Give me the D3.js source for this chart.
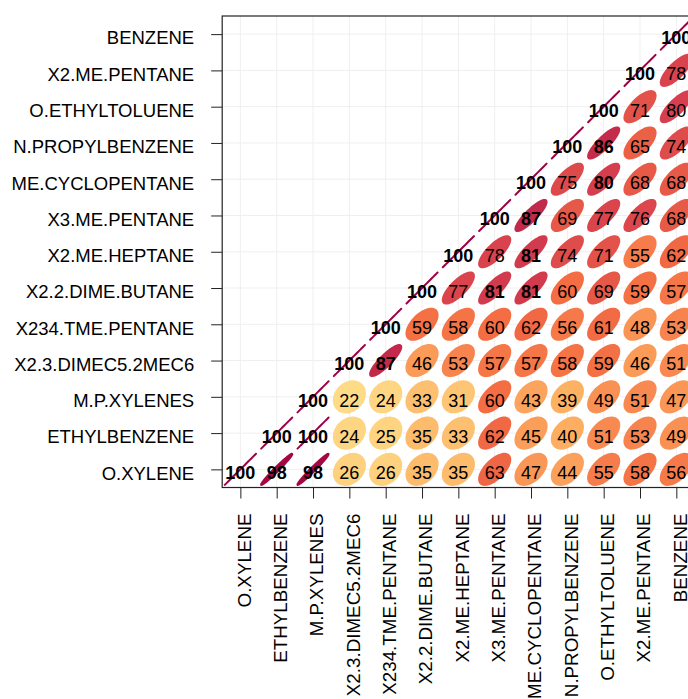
<!DOCTYPE html>
<html>
<head>
<meta charset="utf-8">
<script src="https://cdn.jsdelivr.net/npm/d3@7"></script>
<style>
body { margin: 0; background: #fff; }
svg { display: block; font-family: "Liberation Sans", Arial, sans-serif; }
</style>
</head>
<body>
<div id="div_svg"></div>
<script>
// variable order, bottom-to-top on y and left-to-right on x
var vars = ["O.XYLENE", "ETHYLBENZENE", "M.P.XYLENES", "X2.3.DIMEC5.2MEC6",
  "X234.TME.PENTANE", "X2.2.DIME.BUTANE", "X2.ME.HEPTANE", "X3.ME.PENTANE",
  "ME.CYCLOPENTANE", "N.PROPYLBENZENE", "O.ETHYLTOLUENE", "X2.ME.PENTANE", "BENZENE"];

// correlations (x100), row i holds columns i..12
var row0 = [100, 98, 98, 26, 26, 35, 35, 63, 47, 44, 55, 58, 56];
var row1 = [100, 100, 24, 25, 35, 33, 62, 45, 40, 51, 53, 49];
var row2 = [100, 22, 24, 33, 31, 60, 43, 39, 49, 51, 47];
var row3 = [100, 87, 46, 53, 57, 57, 58, 59, 46, 51];
var row4 = [100, 59, 58, 60, 62, 56, 61, 48, 53];
var row5 = [100, 77, 81, 81, 60, 69, 59, 57];
var row6 = [100, 78, 81, 74, 71, 55, 62];
var row7 = [100, 87, 69, 77, 76, 68];
var row8 = [100, 75, 80, 68, 68];
var row9 = [100, 86, 65, 74];
var row10 = [100, 71, 79.6];
var row11 = [100, 78];
var row12 = [100];
var rows = [row0, row1, row2, row3, row4, row5, row6, row7, row8, row9, row10, row11, row12];

// reversed brewer Spectral over -1..1
var spectral = ["#5E4FA2", "#3288BD", "#66C2A5", "#ABDDA4", "#E6F598", "#FFFFBF",
  "#FEE08B", "#FDAE61", "#F46D43", "#D53E4F", "#9E0142"];

var cells = [];
rows.forEach(function (r, i) {
  r.forEach(function (v, k) {
    cells.push({ row: vars[i], col: vars[i + k], z: v / 100 });
  });
});

var svg = d3.select("#div_svg").append("svg").attr("width", 688).attr("height", 699);

var x = d3.scalePoint().domain(vars).range([222.2, 694.5]).padding(0.5);
var y = d3.scalePoint().domain(vars).range([487.5, 16]).padding(0.5);
var col = d3.scaleLinear().domain(d3.range(11).map(function (i) { return -1 + i * 0.2; }))
  .range(spectral);

var step = x.step();
var ts = Math.sqrt(-2 * Math.log(1 - 0.9)) * 0.2; // sqrt(qchisq(.9,2)) * scale

// grid
svg.append("g").selectAll("line.gx").data(vars).enter().append("line")
  .attr("x1", function (d) { return x(d); }).attr("x2", function (d) { return x(d); })
  .attr("y1", 16).attr("y2", 487.5).style("stroke", "#efefef").style("stroke-width", 1);
svg.append("g").selectAll("line.gy").data(vars).enter().append("line")
  .attr("y1", function (d) { return y(d); }).attr("y2", function (d) { return y(d); })
  .attr("x1", 222.2).attr("x2", 694.5).style("stroke", "#efefef").style("stroke-width", 1);

// ellipses
function ellipse(c) {
  var d = Math.acos(Math.max(-1, Math.min(1, c.z)));
  var pts = [];
  for (var j = 0; j < 50; j++) {
    var a = j * 2 * Math.PI / 49;
    pts.push([x(c.col) + ts * step * Math.cos(a + d / 2),
              y(c.row) - ts * y.step() * Math.cos(a - d / 2)]);
  }
  return pts;
}

svg.append("g").selectAll("polygon").data(cells).enter().append("polygon")
  .attr("points", function (c) { return ellipse(c).map(function (p) { return p.join(","); }).join(" "); })
  .style("fill", function (c) { return col(c.z); })
  .style("stroke", function (c) { return col(c.z); })
  .style("stroke-width", 2)
  .style("stroke-linejoin", "round");

svg.append("g").selectAll("text").data(cells).enter().append("text")
  .attr("x", function (c) { return x(c.col); })
  .attr("y", function (c) { return y(c.row); })
  .attr("dy", "0.55em")
  .attr("text-anchor", "middle")
  .style("font-size", "18px")
  .style("font-weight", function (c) { return c.z < 0.8 ? "normal" : "bold"; })
  .style("fill", "#000")
  .text(function (c) { return Math.round(c.z * 100); });

// axes
var ax = svg.append("g").attr("transform", "translate(222.2,0)")
  .call(d3.axisLeft(y).tickSize(11).tickPadding(17).tickSizeOuter(0));
ax.select(".domain").remove();
ax.selectAll("text").attr("dy", "0.53em").style("font-size", "18.5px").style("fill", "#000")
  .style("font-family", "Liberation Sans, Arial, sans-serif");
ax.selectAll("line").style("stroke", "#222");

var bx = svg.append("g").attr("transform", "translate(0,487.5)")
  .call(d3.axisBottom(x).tickSize(11).tickPadding(0).tickSizeOuter(0));
bx.select(".domain").remove();
bx.selectAll("text")
  .attr("transform", "rotate(-90)")
  .attr("x", -26).attr("y", 0).attr("dy", "0.53em")
  .attr("text-anchor", "end")
  .style("font-size", "18.8px").style("fill", "#000")
  .style("font-family", "Liberation Sans, Arial, sans-serif");
bx.selectAll("line").style("stroke", "#222");

// panel border
svg.append("rect").attr("x", 222.2).attr("y", 16).attr("width", 694.5 - 222.2).attr("height", 487.5 - 16)
  .style("fill", "none").style("stroke", "#222").style("stroke-width", 1.2);
</script>
</body>
</html>
